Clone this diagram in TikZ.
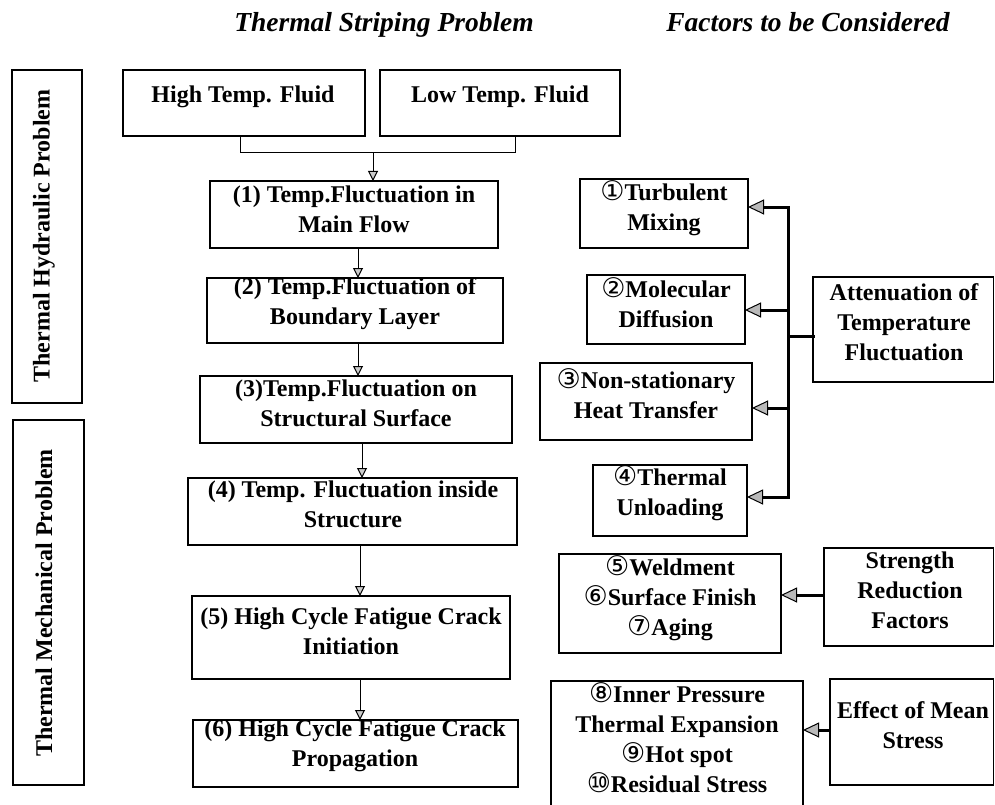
\documentclass[tikz,border=0pt]{standalone}
\usepackage{fontspec}
\setmainfont{Liberation Serif}
\newfontfamily\circfont{DejaVu Sans}
\usetikzlibrary{fit,arrows.meta}
\newcommand\cn[1]{{\circfont\mdseries\fontsize{27}{30}\selectfont #1}}
\begin{document}
\begin{tikzpicture}[x=1pt,y=-1pt,
  box/.style={draw, line width=1.4pt, inner sep=0pt, outer sep=0pt},
  txt/.style={font=\bfseries\fontsize{24}{30}\selectfont, align=center, inner sep=0pt},
  head/.style={font=\bfseries\itshape\fontsize{27.5}{30}\selectfont, inner sep=0pt, anchor=base},
  link/.style={line width=1pt},
  flow/.style={line width=1pt, -{Triangle[length=10pt,width=10pt,fill=gray!40]}},
  bus/.style={line width=3pt, line cap=rect},
  busarrow/.style={line width=3pt, -{Triangle[length=16pt,width=15pt,fill=gray!55,line width=1pt]}}]
\useasboundingbox (0,0) rectangle (995,805);

% headers
\node[head] (h1) at (384,32) {Thermal Striping Problem};
\node[head] (h2) at (808,32) {Factors to be Considered};

% left category boxes
\node[box, fit={(12,70) (82,403)}] (thp) {};
\node[txt, rotate=90] (thpt) at (44,236) {Thermal Hydraulic Problem};
\node[box, fit={(13,420) (84,785)}] (tmp) {};
\node[txt, rotate=90] (tmpt) at (44,603) {Thermal Mechanical Problem};

% main column
\node[box, fit={(123,70) (365,136)}] (hi) {};
\node[txt] (hit) at (243,97) {High Temp. Fluid};
\node[box, fit={(380,70) (620,136)}] (lo) {};
\node[txt] (lot) at (500,97) {Low Temp. Fluid};

\node[box, fit={(210,181) (498,248)}] (s1) {};
\node[txt] (s1t) at (354,209) {(1) Temp.Fluctuation in\\Main Flow};
\node[box, fit={(207,278) (503,343)}] (s2) {};
\node[txt] (s2t) at (355,304) {(2) Temp.Fluctuation of\\Boundary Layer};
\node[box, fit={(200,376) (512,443)}] (s3) {};
\node[txt] (s3t) at (356,403) {(3)Temp.Fluctuation on\\Structural Surface};
\node[box, fit={(188,478) (517,545)}] (s4) {};
\node[txt] (s4t) at (353,504) {(4) Temp. Fluctuation inside\\Structure};
\node[box, fit={(192,596) (510,679)}] (s5) {};
\node[txt] (s5t) at (351,631) {(5) High Cycle Fatigue Crack\\Initiation};
\node[box, fit={(193,720) (518,787)}] (s6) {};
\node[txt] (s6t) at (355,746) {(6) High Cycle Fatigue Crack\\Propagation};

% right column
\node[box, fit={(580,179) (748,248)}] (tm) {};
\node[txt] (tmt) at (664,208) {\cn{①}Turbulent\\Mixing};
\node[box, fit={(587,275) (745,344)}] (md) {};
\node[txt] (mdt) at (666,303) {\cn{②}Molecular\\Diffusion};
\node[box, fit={(540,363) (752,440)}] (ns) {};
\node[txt] (nst) at (646,394) {\cn{③}Non-stationary\\Heat Transfer};
\node[box, fit={(593,465) (747,536)}] (tu) {};
\node[txt] (tut) at (670,493) {\cn{④}Thermal\\Unloading};
\node[box, fit={(813,277) (993.5,382)}] (att) {};
\node[txt] (attt) at (904,322) {Attenuation of\\Temperature\\Fluctuation};

\node[box, fit={(559,554) (781,653)}] (wd) {};
\node[txt] (wdt) at (670,598) {\cn{⑤}Weldment\\\cn{⑥}Surface Finish\\\cn{⑦}Aging};
\node[box, fit={(824,548) (993.5,646)}] (srf) {};
\node[txt] (srft) at (910,590) {Strength\\Reduction\\Factors};

\node[box, fit={(551,681) (803,812)}] (ip) {};
\node[txt] (ipt) at (677,738) {\cn{⑧}Inner Pressure\\Thermal Expansion\\\cn{⑨}Hot spot\\\cn{⑩}Residual Stress};
\node[box, fit={(830,679) (993.5,785)}] (em) {};
\node[txt] (emt) at (913,725) {Effect of Mean\\Stress};

% main column connectors
\coordinate (jl) at (240,153);
\coordinate (jr) at (515,153);
\coordinate (j) at (373,153);
\draw[link] (hi.south -| jl) -- (jl) -- (jr) -- (lo.south -| jr);
\draw[flow] (j) -- (s1.north -| j);
\coordinate (c12) at (358,0);
\coordinate (c23) at (358,0);
\coordinate (c34) at (362,0);
\coordinate (c45) at (360,0);
\coordinate (c56) at (360,0);
\draw[flow] (s1.south -| c12) -- (s2.north -| c12);
\draw[flow] (s2.south -| c23) -- (s3.north -| c23);
\draw[flow] (s3.south -| c34) -- (s4.north -| c34);
\draw[flow] (s4.south -| c45) -- (s5.north -| c45);
\draw[flow] (s5.south -| c56) -- (s6.north -| c56);

% right bus
\coordinate (bt) at (788,207);
\coordinate (b2) at (788,310);
\coordinate (bm) at (788,336);
\coordinate (b3) at (788,408);
\coordinate (bb) at (788,497);
\draw[bus] (att.west |- bm) -- (bm);
\draw[bus] (bt) -- (bb);
\draw[busarrow] (bt) -- (tm.east |- bt);
\draw[busarrow] (b2) -- (md.east |- b2);
\draw[busarrow] (b3) -- (ns.east |- b3);
\draw[busarrow] (bb) -- (tu.east |- bb);

\coordinate (a5) at (0,595);
\coordinate (a6) at (0,730);
\draw[busarrow] (srf.west |- a5) -- (wd.east |- a5);
\draw[busarrow] (em.west |- a6) -- (ip.east |- a6);
\end{tikzpicture}
\end{document}
